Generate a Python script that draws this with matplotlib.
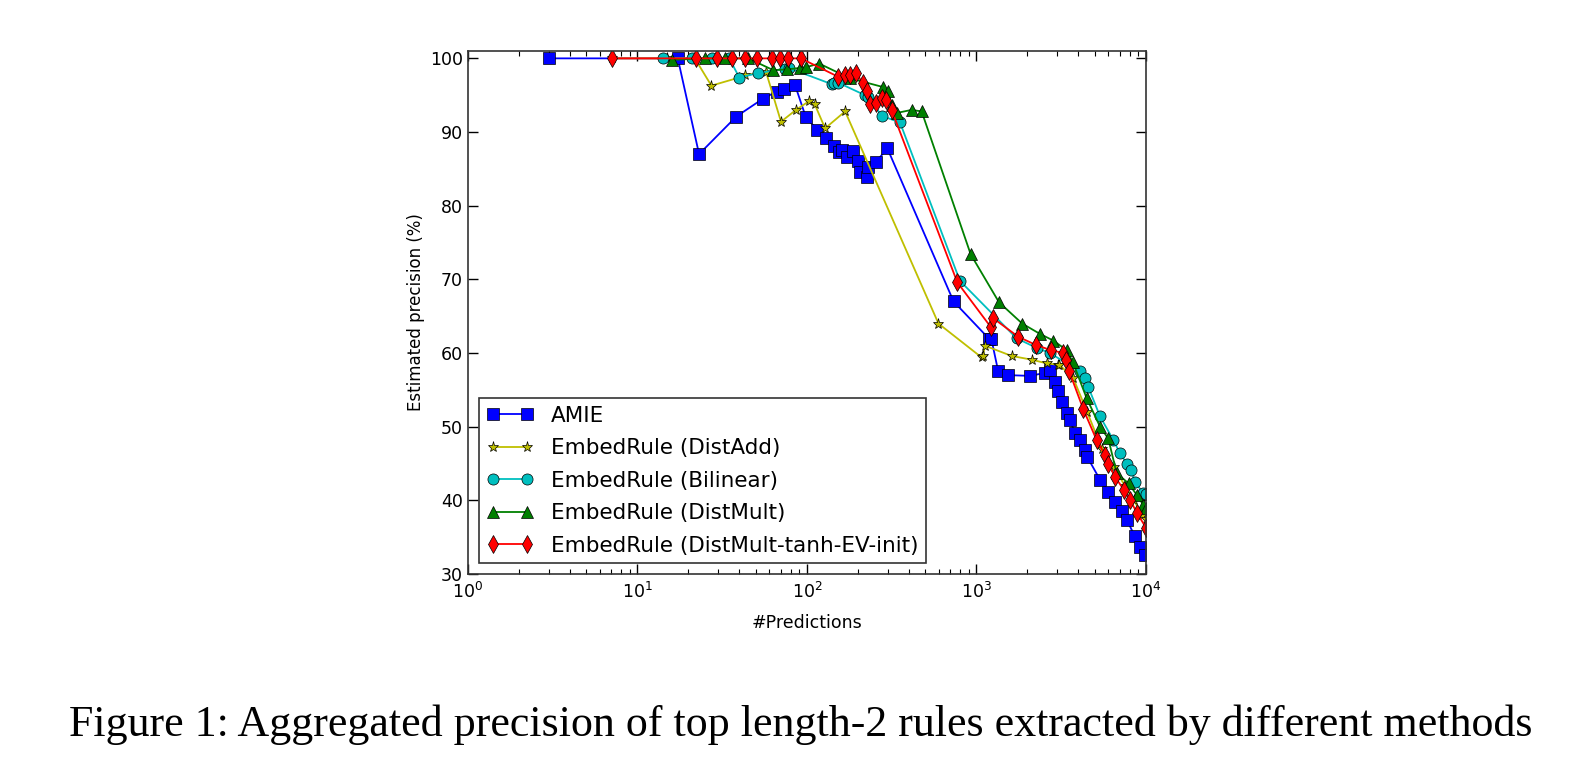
import matplotlib
matplotlib.use("Agg")
import matplotlib.pyplot as plt

# AMIE
amie_x = [3.0, 17.3, 23.1, 38.3, 54.8, 66.2, 73.5, 85, 98.6, 115, 129, 145, 154.5,
          160, 173, 186, 201, 205, 225, 230, 255, 298, 733, 1191, 1225, 1345, 1541,
          2070, 2535, 2715, 2905, 3040, 3185, 3405, 3565, 3815, 4080, 4370, 4505,
          5360, 5995, 6565, 7190, 7700, 8610, 9195, 9860]
amie_y = [100, 100, 87.0, 92.1, 94.5, 95.5, 95.9, 96.4, 92.0, 90.3, 89.2, 88.1, 87.3,
          87.6, 86.6, 87.4, 86.1, 84.6, 83.9, 85.3, 85.9, 87.8, 67.0, 61.9, 61.9, 57.5, 57.0,
          56.9, 57.3, 57.7, 56.1, 54.8, 53.4, 51.8, 50.9, 49.1, 48.2, 46.9, 45.9,
          42.8, 41.2, 39.8, 38.5, 37.4, 35.1, 33.7, 32.6]

# EmbedRule (DistAdd)
distadd_x = [7.05, 15, 21.8, 27.3, 39.9, 43, 57.3, 70.3, 86.1, 103, 111, 128, 168, 597,
             1073, 1094, 1122, 1614, 2117, 2594, 3040, 3090, 3725, 4500, 5500, 6500,
             7500, 8500, 9500, 10000]
distadd_y = [100, 100, 100, 96.3, 97.4, 97.7, 98.2, 91.4, 93.0, 94.2, 93.8, 90.5, 92.8, 64.0,
             59.4, 59.6, 61.0, 59.6, 59.1, 58.6, 58.4, 58.4, 56.6, 52.0, 47.0, 44.5,
             42.0, 40.0, 38.0, 37.5]

# EmbedRule (Bilinear)
bilinear_x = [14.1, 20.9, 27.4, 34.8, 39.9, 51.6, 74.2, 78, 140, 145, 153, 220, 230, 276,
              354, 799, 1726, 2264, 2715, 4080, 4370, 4570, 5360, 6420, 7025, 7700,
              8200, 8610, 9640, 10000]
bilinear_y = [100, 100, 100, 100, 97.4, 98.0, 98.6, 98.7, 96.5, 96.6, 96.7, 95.0, 94.8, 92.2,
              91.3, 69.8, 62.0, 60.7, 60.0, 57.5, 56.6, 55.4, 51.4, 48.2, 46.4, 45.0,
              44.1, 42.5, 41.0, 40.8]

# EmbedRule (DistMult)
distmult_x = [16.1, 25, 33, 45, 63.3, 76, 91, 99, 118, 179, 282, 300, 316, 340, 414, 475,
              925, 1358, 1862, 2370, 2837, 3405, 3700, 4465, 5360, 5995, 6715, 7900,
              8850, 9640, 10000]
distmult_y = [99.8, 100, 100, 100, 98.4, 98.5, 98.7, 98.8, 99.3, 97.3, 96.1, 95.6, 93.7, 92.6,
              93.0, 92.8, 73.4, 66.9, 64.0, 62.6, 61.7, 60.4, 58.8, 53.9, 50.0, 48.4,
              43.7, 42.3, 40.7, 39.4, 39.0]

# EmbedRule (DistMult-tanh-EV-init)
tanh_x = [7.05, 22.1, 29.4, 36.2, 43.1, 50.5, 61.9, 69.3, 77.6, 92, 153, 167, 179, 196,
          213, 227, 237, 255, 276, 293, 316, 771, 1218, 1260, 1767, 2243, 2740, 3253,
          3390, 3530, 4265, 5115, 5730, 5995, 6565, 7425, 8050, 8850, 10000]
tanh_y = [100, 100, 100, 100, 100, 100, 100, 100, 100, 100, 97.5, 97.7, 97.7, 98.0,
          96.6, 95.6, 93.8, 94.0, 94.6, 94.3, 93.0, 69.6, 63.5, 64.7, 62.2, 61.1, 60.4, 60.0,
          59.1, 57.5, 52.4, 48.2, 46.2, 45.0, 43.2, 41.4, 40.1, 38.3, 36.3]

labels = ["AMIE", "EmbedRule (DistAdd)", "EmbedRule (Bilinear)",
          "EmbedRule (DistMult)", "EmbedRule (DistMult-tanh-EV-init)"]
caption = ("Figure 1: Aggregated precision of top length-2 rules "
           "extracted by different methods")

fig = plt.figure(figsize=(15.96, 7.81), dpi=100)
ax = fig.add_axes([0.2932, 0.265, 0.4248, 0.6697])

series = [
    (amie_x, amie_y, (0, 0, 1), "s", 8),
    (distadd_x, distadd_y, (0.75, 0.75, 0), "*", 8),
    (bilinear_x, bilinear_y, (0, 0.75, 0.75), "o", 8),
    (distmult_x, distmult_y, (0, 0.5, 0), "^", 8),
    (tanh_x, tanh_y, (1, 0, 0), "d", 9),
]
for (xs, ys, col, mk, ms), lab in zip(series, labels):
    ax.plot(xs, ys, color=col, marker=mk, markersize=ms, linewidth=1.3,
            markeredgecolor="black", markeredgewidth=0.5, label=lab)

ax.set_xscale("log")
ax.set_xlim(1, 1e4)
ax.set_ylim(30, 101)
ax.set_yticks([30, 40, 50, 60, 70, 80, 90, 100])
ax.tick_params(which="both", direction="in", top=True, right=True, labelsize=12.5)
ax.tick_params(axis="x", pad=6)
ax.tick_params(which="major", length=7, width=1)
ax.tick_params(which="minor", length=3.5, width=0.8)
for sp in ax.spines.values():
    sp.set_color("#333333")
    sp.set_linewidth(1.2)

ax.set_xlabel("#Predictions", fontsize=12.5, labelpad=8)
ax.set_ylabel("Estimated precision (%)", fontsize=12)

leg = ax.legend(loc="lower left", numpoints=2, fontsize=15.5, fancybox=False,
                edgecolor="#333333", framealpha=1, handlelength=2.2,
                labelspacing=0.58, borderpad=0.35)
leg.get_frame().set_linewidth(1.2)

fig.text(0.043, 0.058, caption, family="Liberation Serif", fontsize=31.7,
         ha="left", va="baseline")

fig.savefig("out.png", dpi=100)
